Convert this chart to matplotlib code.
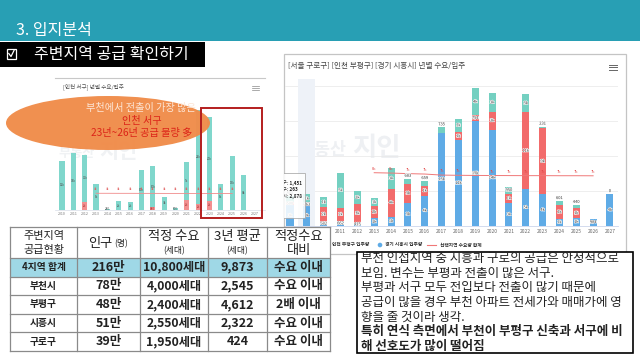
import matplotlib
matplotlib.use('Agg')
import matplotlib.pyplot as plt
from matplotlib.patches import Rectangle, Ellipse, Circle
import matplotlib.patheffects as pe
import numpy as np

plt.rcParams['font.family'] = ['Noto Sans CJK KR', 'DejaVu Sans']

# ---------------- data: right chart (households) ----------------
years = list(range(2008, 2028))
guro_supply = [800, 1451, 1350, 5000, 1800, 1100, 2900, 683, 659, 735, 1900, 3900, 2600, 950, 2600, 231, 601, 440, np.nan, 0]
bupyeong_supply = [500, 263, 2100, 1900, 2700, 1700, 4000, 2700, 1400, np.nan, 1200, 754, 2600, 1400, 11000, 9400, 1900, 1400, np.nan, np.nan]
siheung_supply = [2900, 2878, 582, 662, 415, 1100, 1300, 3300, 4300, 13300, 12200, 15000, 13700, 3200, 5200, 4500, 1000, 1100, 984, 4500]
demand_years = list(range(2013, 2027))
demand_total = [7570, 7520, 7440, 7380, 7230, 7200, 7180, 7170, 7160, 7150, 7150, 7140, 7140, 7130]
right_title = '[서울 구로구] [인천 부평구] [경기 시흥시] 년별 수요/입주'
legend_labels = ['인천 부평구 입주량', '경기 시흥시 입주량', '선택지역 수요량 합계']
tooltip_names = ['서울 구로구', '인천 부평구', '경기 시흥시']
tooltip_values = ['1,451', '263', '2,878']

# ---------------- data: left chart (thousand households) ----------------
seo_years = list(range(2010, 2028))
seo_supply = [11.7, 13.6, 11.1, 6.2, 0.24, 2.1, 1.9, 9.5, 9.8, 3.1, 0.5, 9.0, 22.3, 19.9, 6.2, 12.9, 8.3, 0]
seo_other = [0, 0, 2.0, 0, 0, 0, 0, 0, 0.68, 0, 0, 2.4, 1.5, 2.2, 0, 0, 0, 0]
seo_demand_years = list(range(2013, 2026))
seo_demand = [3.98, 3.98, 3.97, 3.97, 3.96, 3.96, 3.95, 3.95, 3.95, 3.94, 3.94, 3.93, 3.93]
left_title = '[인천 서구] 년별 수요/입주'
callout = ['부천에서 전출이 가장 많은', '인천 서구', '23년~26년 공급 물량 多']

# ---------------- data: table ----------------
regions = ['4지역 합계', '부천시', '부평구', '시흥시', '구로구']
population = ['216만', '78만', '48만', '51만', '39만']
proper_demand = ['10,800세대', '4,000세대', '2,400세대', '2,550세대', '1,950세대']
avg_3yr = ['9,873', '2,545', '4,612', '2,322', '424']
versus = ['수요 이내', '수요 이내', '2배 이내', '수요 이내', '수요 이내']

memo_lines = ['부천 인접지역 중 시흥과 구로의 공급은 안정적으로',
              '보임. 변수는 부평과 전출이 많은 서구.',
              '부평과 서구 모두 전입보다 전출이 많기 때문에',
              '공급이 많을 경우 부천 아파트 전세가와 매매가에 영',
              '향을 줄 것이라 생각.',
              '특히 연식 측면에서 부천이 부평구 신축과 서구에 비',
              '해 선호도가 많이 떨어짐']
memo_bold = [False, False, False, False, False, True, True]

# ---------------- figure ----------------
W, H = 640, 360
fig = plt.figure(figsize=(6.4, 3.6), dpi=100)
fig.patch.set_facecolor('white')


def px_axes(x0, y0, x1, y1, z):
    return fig.add_axes([x0 / W, 1 - y1 / H, (x1 - x0) / W, (y1 - y0) / H], zorder=z)


def kfmt(v):
    return f'{int(round(v / 1000))}k' if v >= 1000 else f'{int(round(v))}'


# background layer
bg = fig.add_axes([0, 0, 1, 1], zorder=0)
bg.set_xlim(0, W); bg.set_ylim(H, 0); bg.axis('off')
bg.add_patch(Rectangle((0, 0), W, 41, color='#289fb4', lw=0))
bg.text(16, 31, '3. 입지분석', color='white', fontsize=11.5, va='center', ha='left')
bg.add_patch(Rectangle((0, 42), 205, 24.5, color='black', lw=0))
bg.add_patch(Rectangle((7, 48.5), 8.5, 10.5, fill=False, ec='white', lw=0.9))
bg.plot([8.8, 11, 14], [53.5, 56.5, 50.5], color='white', lw=0.9)
bg.text(34, 54.5, '주변지역 공급 확인하기', color='white', fontsize=11.5, va='center')

# left chart frame/title
bg.plot([55, 265], [78, 78], color='#c8c8c8', lw=0.8)
bg.text(63, 87, left_title, fontsize=4.0, color='#555', va='center')
for yy in (86, 87.8, 89.6):
    bg.plot([252, 259], [yy, yy], color='#888', lw=0.5)
bg.text(58, 153, '부동산', fontsize=9.5, color='#f0f2f4', va='center', weight='bold')
bg.text(99, 152, '지인', fontsize=15, color='#f0f2f4', va='center', weight='bold')

# right chart frame/title
bg.add_patch(Rectangle((284, 54), 342, 200, fill=False, ec='#c4c4c4', lw=0.9))
bg.text(288, 66, right_title, fontsize=5.5, color='#444', va='center')
for yy in (64.5, 67, 69.5):
    bg.plot([609, 617], [yy, yy], color='#666', lw=0.7)
bg.text(298, 150, '부동산', fontsize=12.5, color='#eef0f3', va='center', weight='bold')
bg.text(352, 148, '지인', fontsize=19, color='#eef0f3', va='center', weight='bold')

# ---------------- left chart ----------------
axL = px_axes(55, 90, 265, 210, 1)
axL.set_facecolor('none')
axL.set_xlim(2010 + (55 - 62) / 11.35, 2010 + (265 - 62) / 11.35)
axL.set_ylim(0, 120 / 4.2)
axL.bar(seo_years, seo_other, width=0.45, color='#f29090', zorder=2)
axL.bar(seo_years, seo_supply, bottom=seo_other, width=0.45, color='#80d7cc', zorder=2)
axL.plot(seo_demand_years, seo_demand, color='#f08a8a', lw=0.6, zorder=3)
for x, v, o in zip(seo_years, seo_supply, seo_other):
    if v > 0:
        axL.text(x, o + v / 2, f'{v:.0f}k' if v >= 1 else f'{v*1000:.0f}', fontsize=2.2,
                 color='#555', ha='center', va='center', zorder=4)
    if o > 0:
        axL.text(x, o / 2, f'{o:.0f}k' if o >= 1 else f'{o*1000:.0f}', fontsize=2.2,
                 color='#a33', ha='center', va='center', zorder=4)
for x, v in zip(seo_demand_years, seo_demand):
    axL.text(x, v + 1.0, f'{v:.0f}k', fontsize=2.2, color='#e06060', ha='center', va='center', zorder=4)
for s in ['top', 'right', 'left']:
    axL.spines[s].set_visible(False)
axL.spines['bottom'].set_color('#d8dde8'); axL.spines['bottom'].set_linewidth(0.5)
axL.set_yticks([])
axL.set_xticks(seo_years)
axL.set_xticklabels([str(y) for y in seo_years], fontsize=2.6, color='#777')
axL.tick_params(axis='x', length=0, pad=1.5)

# ---------------- right chart ----------------
axR = px_axes(285, 78.7, 618, 225.7, 2)
axR.set_facecolor('none')
axR.set_xlim(2008 - (290 - 285) / 16.84, 2008 + (618 - 290) / 16.84)
axR.set_ylim(0, 21000)
for g in (5000, 10000, 15000, 20000):
    axR.axhline(g, color='#e8e8e8', lw=0.5, zorder=0)
axR.axvspan(2008.5, 2009.5, color='#eef2f8', zorder=0.5, lw=0)

blue = np.nan_to_num(np.array(siheung_supply, float))
red = np.nan_to_num(np.array(bupyeong_supply, float))
teal = np.nan_to_num(np.array(guro_supply, float))
bw = 0.42
axR.bar(years, blue, width=bw, color='#5fabe6', zorder=2)
axR.bar(years, red, width=bw, bottom=blue, color='#f26b6b', zorder=2)
axR.bar(years, teal, width=bw, bottom=blue + red, color='#74d0c1', zorder=2)
axR.plot(demand_years, demand_total, color='#f07878', lw=0.7, zorder=3)

stroke = [pe.withStroke(linewidth=0.7, foreground='white')]
lab_kw = dict(fontsize=2.9, color='#333', ha='center', va='center', zorder=5, path_effects=stroke)
label_pos = {}
for i, x in enumerate(years):
    segs = [(siheung_supply[i], 0), (bupyeong_supply[i], blue[i]), (guro_supply[i], blue[i] + red[i])]
    top = blue[i] + red[i] + teal[i]
    topmost = max(j for j, (v, b) in enumerate(segs) if not np.isnan(v))
    label_pos[x] = []
    for j, (v, b) in enumerate(segs):
        if np.isnan(v):
            continue
        if j == topmost and v < 900:
            yy = top + 450
        elif v > 0:
            yy = b + v / 2
        else:
            continue
        axR.text(x, yy, kfmt(v), **lab_kw)
        label_pos[x].append(yy)
for x, v in zip(demand_years, demand_total):
    yy = v + 550
    if any(abs(yy - p) < 800 for p in label_pos.get(x, [])):
        continue  # hidden where it would collide with a bar label
    axR.text(x, yy, kfmt(v), fontsize=2.9, color='#e24c4c', ha='center', va='center', zorder=5)

for s in ['top', 'right', 'left']:
    axR.spines[s].set_visible(False)
axR.spines['bottom'].set_color('#ccd6eb'); axR.spines['bottom'].set_linewidth(0.6)
axR.set_yticks([])
axR.set_xticks(years)
axR.set_xticklabels([str(y) if y >= 2011 else '' for y in years], fontsize=3.5, color='#666')
axR.tick_params(axis='x', length=0, pad=2.2)

# ---------------- overlay layer ----------------
ov = fig.add_axes([0, 0, 1, 1], zorder=10)
ov.set_xlim(0, W); ov.set_ylim(H, 0); ov.axis('off')

# tooltip (clipped by the screenshot edge)
clip = Rectangle((284, 54), 342, 200, transform=ov.transData)
tip = Rectangle((278, 173), 27, 45, fc='white', ec='#a0a0a0', lw=0.6, alpha=0.85, zorder=3)
ov.add_patch(tip)
tip.set_clip_path(clip); tip.set_clip_on(True)
for k, (nm, val) in enumerate(zip(tooltip_names, tooltip_values)):
    yy = 183 + k * 6.8
    t1 = ov.text(287, yy, '● ' + nm, fontsize=3.3, color='#333', ha='right', va='center', zorder=4)
    t2 = ov.text(287, yy, ': ' + val, fontsize=3.3, color='#222', ha='left', va='center', weight='bold', zorder=4)
    for t in (t1, t2):
        t.set_clip_path(clip); t.set_clip_on(True)

# legend
ov.add_patch(Circle((327, 245), 1.6, color='#f26b6b', zorder=1))
ov.text(332, 245, legend_labels[0], fontsize=3.4, color='#333', va='center', weight='bold', zorder=1)
ov.add_patch(Circle((380, 245), 1.6, color='#5fabe6', zorder=1))
ov.text(385, 245, legend_labels[1], fontsize=3.4, color='#333', va='center', weight='bold', zorder=1)
ov.plot([427, 436], [245, 245], color='#f07878', lw=0.8, zorder=1)
ov.text(440, 245, legend_labels[2], fontsize=3.4, color='#333', va='center', weight='bold', zorder=1)

# callout ellipse and highlight box
ov.add_patch(Ellipse((108, 123), 204, 54, fc='#f08c4a', ec='none', alpha=0.97, zorder=2))
ov.text(141, 108, callout[0], fontsize=7.3, color='#fde6d6', ha='center', va='center', zorder=3)
ov.text(142, 120.5, callout[1], fontsize=7.3, color='#dc2418', ha='center', va='center', zorder=3)
ov.text(142, 133, callout[2], fontsize=7.3, color='#dc2418', ha='center', va='center', zorder=3)
ov.add_patch(Rectangle((201, 108), 61, 110, fill=False, ec='#b41e1e', lw=1.4, zorder=3))

# table
cx = [10, 77, 140, 208, 267, 330]
ry = [227, 258, 276.6, 295.2, 313.8, 332.4, 351]
ov.add_patch(Rectangle((cx[0], ry[0]), cx[-1] - cx[0], ry[-1] - ry[0], fc='white', ec='none', zorder=5))
ov.add_patch(Rectangle((cx[0], ry[1]), cx[-1] - cx[0], ry[2] - ry[1], fc='#9fd8e6', ec='none', zorder=5))
for x in cx:
    ov.plot([x, x], [ry[0], ry[-1]], color='#8a8a8a', lw=0.9, zorder=6)
for y in ry:
    ov.plot([cx[0], cx[-1]], [y, y], color='#8a8a8a', lw=0.9, zorder=6)
hk = dict(color='#222', ha='center', va='center', zorder=7)
ov.text(43.5, 236.5, '주변지역', fontsize=8, **hk)
ov.text(43.5, 250, '공급현황', fontsize=8, **hk)
ov.text(112, 243, '인구', fontsize=9.5, color='#222', ha='right', va='center', zorder=7)
ov.text(114, 243.5, '(명)', fontsize=6.3, color='#222', ha='left', va='center', zorder=7)
ov.text(174, 236.5, '적정 수요', fontsize=9.5, **hk)
ov.text(174, 250.5, '(세대)', fontsize=6.3, **hk)
ov.text(237.5, 236.5, '3년 평균', fontsize=9.5, **hk)
ov.text(237.5, 250.5, '(세대)', fontsize=6.3, **hk)
ov.text(298.5, 236.5, '적정수요', fontsize=9.5, **hk)
ov.text(298.5, 250.5, '대비', fontsize=9.5, **hk)
for r in range(len(regions)):
    yc = (ry[r + 1] + ry[r + 2]) / 2
    ov.text((cx[0] + cx[1]) / 2, yc, regions[r], fontsize=7.0, weight='bold', **hk)
    ov.text((cx[1] + cx[2]) / 2, yc, population[r], fontsize=9.0, weight='bold', **hk)
    ov.text((cx[2] + cx[3]) / 2, yc, proper_demand[r], fontsize=8.8, weight='bold', **hk)
    ov.text((cx[3] + cx[4]) / 2, yc, avg_3yr[r], fontsize=9.0, weight='bold', **hk)
    ov.text((cx[4] + cx[5]) / 2, yc, versus[r], fontsize=9.0, weight='bold', **hk)

# memo text box
ov.add_patch(Rectangle((357, 252), 276, 101, fc='white', ec='black', lw=1.2, zorder=5))
for k, (line, b) in enumerate(zip(memo_lines, memo_bold)):
    ov.text(361, 258.5 + k * 14.7, line, fontsize=9.0, color='#222', va='center', ha='left',
            weight='bold' if b else 'normal', zorder=6)

fig.savefig('out.png', dpi=100, facecolor='white')
